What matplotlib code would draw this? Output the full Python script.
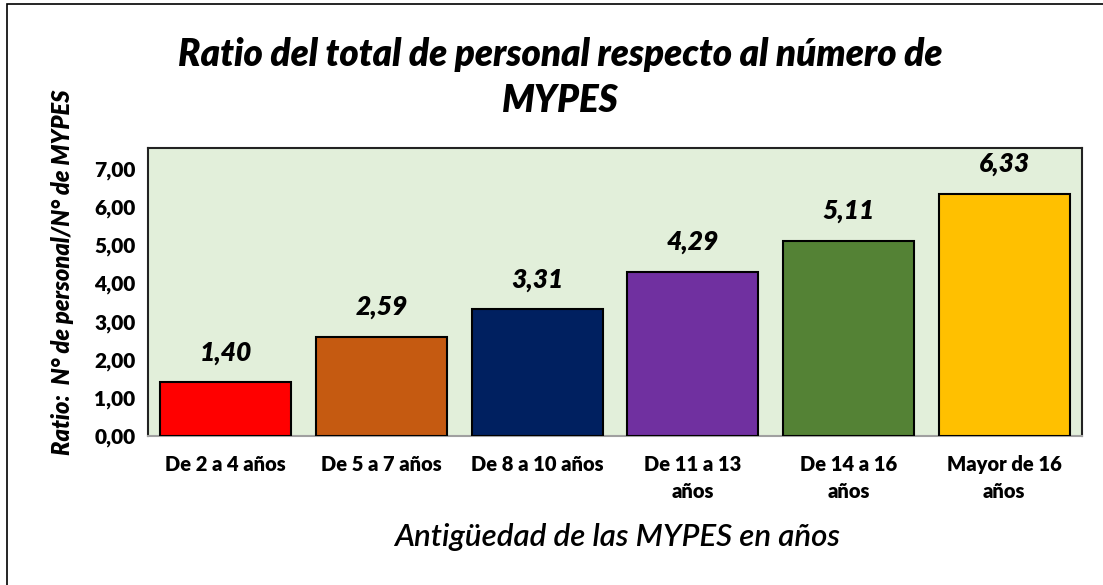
import matplotlib.pyplot as plt
from matplotlib.patches import Rectangle

categories = ['De 2 a 4 años', 'De 5 a 7 años', 'De 8 a 10 años',
              'De 11 a 13\naños', 'De 14 a 16\naños', 'Mayor de 16\naños']
ratios = [1.40, 2.59, 3.31, 4.29, 5.11, 6.33]
bar_colors = ['#FF0000', '#C55A11', '#002060', '#7030A0', '#548235', '#FFC000']
yticks = [0, 1, 2, 3, 4, 5, 6, 7]

plt.rcParams['font.family'] = ['Lato', 'DejaVu Sans']

fig = plt.figure(figsize=(11.03, 5.85), dpi=100)
fig.patch.set_facecolor('white')

# outer frame (only left and top visible in the reference)
fig.patches.append(Rectangle((6.5 / 1103, -0.1), 1.2, 1.1 - 4 / 585,
                             transform=fig.transFigure, fill=False,
                             edgecolor='black', linewidth=1.2))

ax = fig.add_axes([148 / 1103, (585 - 436) / 585, 934 / 1103, 288 / 585])
ax.set_facecolor('#E2EFDA')

x = range(len(categories))
bars = ax.bar(x, ratios, width=0.84, color=bar_colors, edgecolor='black',
              linewidth=1.5, zorder=3)

for xi, v in zip(x, ratios):
    ax.text(xi, v + 0.46, f'{v:.2f}'.replace('.', ','), ha='center',
            va='bottom', fontsize=19, fontweight='heavy', style='italic')

ax.set_xlim(-0.5, len(categories) - 0.5)
ax.set_ylim(0, 7.53)
ax.set_yticks(yticks)
ax.set_yticklabels([f'{t:.2f}'.replace('.', ',') for t in yticks],
                   fontsize=15, fontweight='heavy')
ax.set_xticks(list(x))
ax.set_xticklabels(categories, fontsize=14.5, fontweight='heavy',
                   linespacing=1.45, va='top')
ax.tick_params(axis='y', length=0, pad=9)
ax.tick_params(axis='x', length=0, pad=14)

for s in ['left', 'top', 'right']:
    ax.spines[s].set_color('#222222')
    ax.spines[s].set_linewidth(1.5)
ax.spines['bottom'].set_color('#A0A0A0')
ax.spines['bottom'].set_linewidth(1.5)

fig.text(560 / 1103, 1 - 55 / 585,
         'Ratio del total de personal respecto al número de',
         ha='center', va='center', fontsize=26.5, fontweight='heavy',
         style='italic')
fig.text(560 / 1103, 1 - 100 / 585, 'MYPES', ha='center', va='center',
         fontsize=26.5, fontweight='heavy', style='italic')

fig.text(63 / 1103, 1 - 272 / 585, 'Ratio:  N° de personal/N° de MYPES',
         ha='center', va='center', rotation=90, fontsize=17,
         fontweight='heavy', style='italic')
fig.text(617 / 1103, 1 - 537 / 585, 'Antigüedad de las MYPES en años',
         ha='center', va='center', fontsize=22.5, style='italic',
         fontweight='semibold')

fig.savefig('out.png', dpi=100)
